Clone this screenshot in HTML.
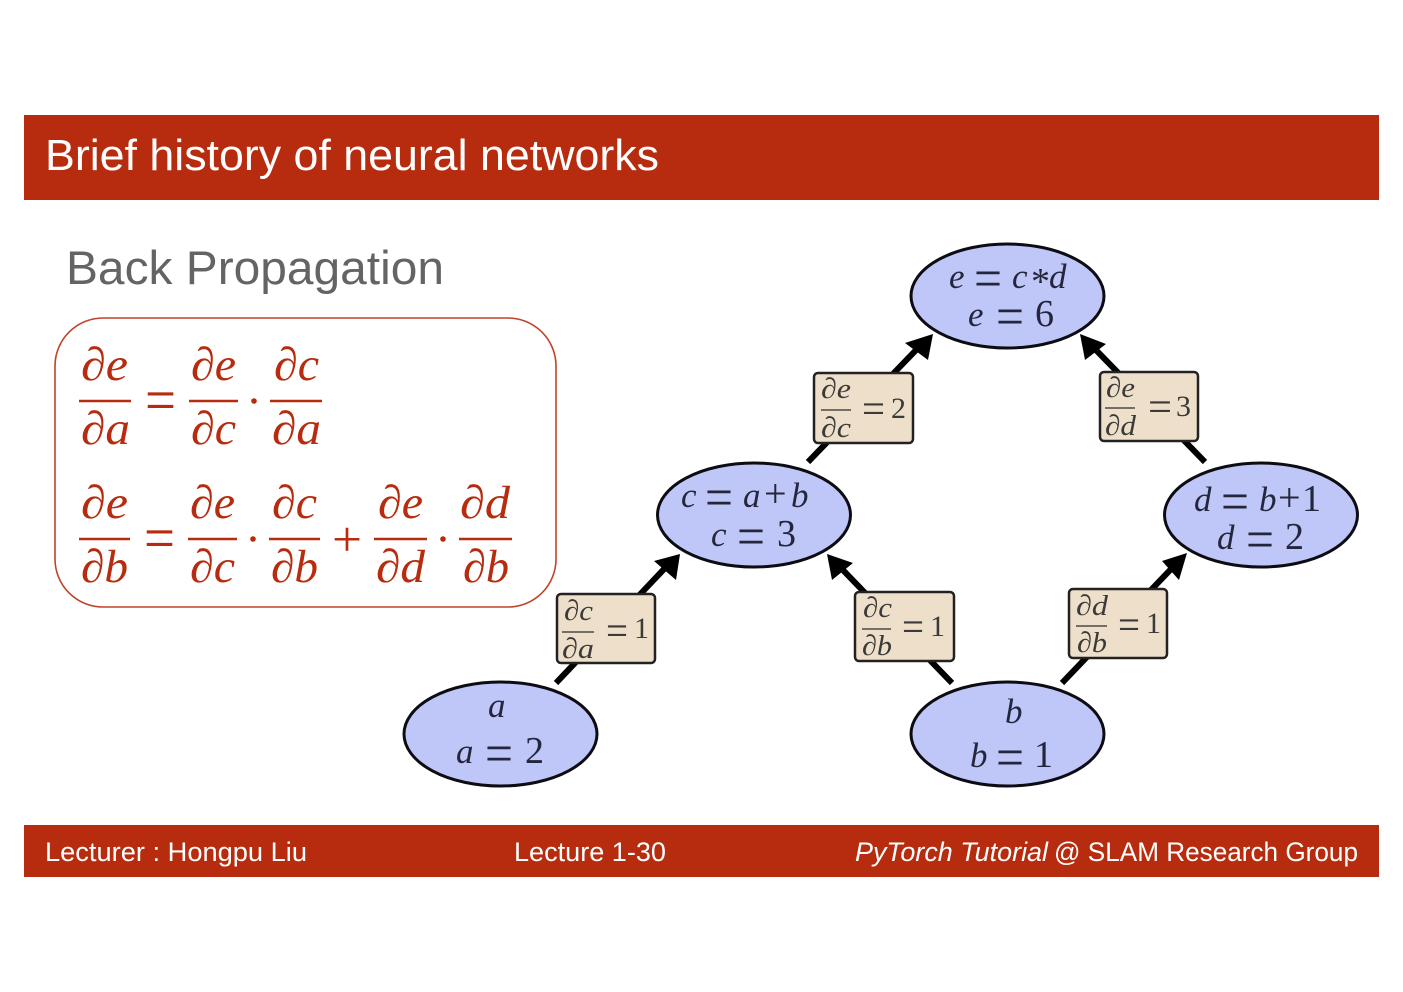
<!DOCTYPE html>
<html lang="en"><head><meta charset="utf-8"><title>Brief history of neural networks</title>
<style>
html,body{margin:0;padding:0;background:#fff}
svg{display:block}
.h{font-family:"Liberation Sans",sans-serif}
.m{font-family:"Liberation Serif",serif;font-style:italic;fill:#b72c0e;font-size:47px}
.mo{font-family:"Liberation Serif",serif;fill:#b72c0e;font-size:62px}
.n{font-family:"Liberation Serif",serif;font-style:italic;fill:#23263c;font-size:35px}
.nd{font-family:"Liberation Serif",serif;fill:#23263c;font-size:38px}
.ne{font-family:"Liberation Serif",serif;fill:#23263c;font-size:56px}
.b{font-family:"Liberation Serif",serif;font-style:italic;fill:#3a3a38;font-size:29px}
.bd{font-family:"Liberation Serif",serif;fill:#3a3a38;font-size:30px}
.be{font-family:"Liberation Serif",serif;fill:#3a3a38;font-size:42px}
</style></head><body>
<svg width="1403" height="992" viewBox="0 0 1403 992" xmlns="http://www.w3.org/2000/svg">
<rect width="1403" height="992" fill="#fff"/>
<rect x="24" y="115" width="1355" height="85" fill="#b72c0e"/>
<rect x="24" y="825" width="1355" height="52" fill="#b72c0e"/>
<text class="h" x="45" y="170" font-size="44" fill="#fff" textLength="614" lengthAdjust="spacingAndGlyphs">Brief history of neural networks</text>
<text class="h" x="66" y="284" font-size="47" fill="#646464" textLength="378" lengthAdjust="spacingAndGlyphs">Back Propagation</text>
<g class="h" font-size="27" fill="#fff">
<text x="45" y="861" textLength="262" lengthAdjust="spacingAndGlyphs">Lecturer : Hongpu Liu</text>
<text x="514" y="861" textLength="152" lengthAdjust="spacingAndGlyphs">Lecture 1-30</text>
<text x="855" y="861" font-style="italic" textLength="193" lengthAdjust="spacingAndGlyphs">PyTorch Tutorial</text>
<text x="1054" y="861" textLength="304" lengthAdjust="spacingAndGlyphs">@ SLAM Research Group</text>
</g>

<rect x="55" y="318" width="501" height="289" rx="48" ry="48" fill="#fff" stroke="#c0432a" stroke-width="1.6"/>
<g stroke="#b72c0e" stroke-width="2.6">
<path d="M79 401H131M189 401H238M270 401H322M79 539H130M188 539H237M269 539H320M374 539H427M459 539H512"/>
</g>
<g class="m">
<text x="81" y="380" textLength="47" lengthAdjust="spacingAndGlyphs">∂e</text>
<text x="81" y="444" textLength="49" lengthAdjust="spacingAndGlyphs">∂a</text>
<text x="191" y="380" textLength="45" lengthAdjust="spacingAndGlyphs">∂e</text>
<text x="191" y="444" textLength="45" lengthAdjust="spacingAndGlyphs">∂c</text>
<text x="274" y="380" textLength="45" lengthAdjust="spacingAndGlyphs">∂c</text>
<text x="272" y="444" textLength="49" lengthAdjust="spacingAndGlyphs">∂a</text>
<text x="81" y="518" textLength="47" lengthAdjust="spacingAndGlyphs">∂e</text>
<text x="81" y="582" textLength="47" lengthAdjust="spacingAndGlyphs">∂b</text>
<text x="190" y="518" textLength="45" lengthAdjust="spacingAndGlyphs">∂e</text>
<text x="190" y="582" textLength="45" lengthAdjust="spacingAndGlyphs">∂c</text>
<text x="272" y="518" textLength="45" lengthAdjust="spacingAndGlyphs">∂c</text>
<text x="271" y="582" textLength="47" lengthAdjust="spacingAndGlyphs">∂b</text>
<text x="378" y="518" textLength="45" lengthAdjust="spacingAndGlyphs">∂e</text>
<text x="376" y="582" textLength="49" lengthAdjust="spacingAndGlyphs">∂d</text>
<text x="460" y="518" textLength="50" lengthAdjust="spacingAndGlyphs">∂d</text>
<text x="463" y="582" textLength="46" lengthAdjust="spacingAndGlyphs">∂b</text>
</g>
<g class="mo">
<text x="145" y="421" textLength="31" lengthAdjust="spacingAndGlyphs">=</text>
<text x="144" y="559" textLength="31" lengthAdjust="spacingAndGlyphs">=</text>
</g>
<text class="mo" style="font-size:50px" x="332" y="556" textLength="30" lengthAdjust="spacingAndGlyphs">+</text>
<g fill="#b72c0e">
<circle cx="254" cy="401" r="2.8"/><circle cx="253" cy="539" r="2.8"/><circle cx="443" cy="539" r="2.8"/>
</g>

<!-- connectors -->
<g stroke="#000" stroke-width="6" fill="none">
<path d="M808 462L918 348M1205 462L1094 348M556 683L666 567M952 683L840 567M1062 683L1173 567"/>
</g>
<g fill="#000">
<path d="M933 334L905 343L928 360Z"/>
<path d="M1080 334L1085 360L1106 344Z"/>
<path d="M680 554L654 561L676 580Z"/>
<path d="M827 554L832 580L853 563Z"/>
<path d="M1187 553L1162 561L1179 580Z"/>
</g>

<!-- nodes -->
<g fill="#bfc7f8" stroke="#0c0c12" stroke-width="3">
<ellipse cx="1007.500" cy="296" rx="96.500" ry="52"/>
<ellipse cx="754" cy="515" rx="96.500" ry="52"/>
<ellipse cx="1261" cy="515" rx="96.500" ry="52"/>
<ellipse cx="500.500" cy="734" rx="96.500" ry="52"/>
<ellipse cx="1007.500" cy="734" rx="96.500" ry="52"/>
</g>
<g class="n">
<text x="949" y="288">e</text><text x="1012" y="288">c</text><text x="1049" y="288">d</text>
<text x="968" y="326">e</text>
<text x="681" y="507">c</text><text x="743" y="507">a</text><text x="791" y="507">b</text>
<text x="711" y="546">c</text>
<text x="1194" y="511">d</text><text x="1259" y="511">b</text>
<text x="1217" y="549">d</text>
<text x="488" y="717">a</text>
<text x="456" y="763">a</text>
<text x="1005" y="723">b</text>
<text x="970" y="767">b</text>
</g>
<g class="nd">
<text x="1031" y="294" style="font-size:38px">*</text>
<text x="1035" y="326">6</text>
<text x="764" y="507" style="font-size:40px">+</text>
<text x="777" y="546">3</text>
<text x="1278" y="511" style="font-size:40px">+</text>
<text x="1302" y="511">1</text>
<text x="1285" y="549">2</text>
<text x="525" y="763">2</text>
<text x="1034" y="767">1</text>
</g>
<g class="ne">
<text x="974" y="297" textLength="28" lengthAdjust="spacingAndGlyphs">=</text>
<text x="996" y="335" textLength="28" lengthAdjust="spacingAndGlyphs">=</text>
<text x="705" y="516" textLength="28" lengthAdjust="spacingAndGlyphs">=</text>
<text x="737" y="555" textLength="28" lengthAdjust="spacingAndGlyphs">=</text>
<text x="1221" y="520" textLength="28" lengthAdjust="spacingAndGlyphs">=</text>
<text x="1246" y="558" textLength="28" lengthAdjust="spacingAndGlyphs">=</text>
<text x="485" y="772" textLength="28" lengthAdjust="spacingAndGlyphs">=</text>
<text x="996" y="776" textLength="28" lengthAdjust="spacingAndGlyphs">=</text>
</g>

<!-- edge labels -->
<g fill="#eedfca" stroke="#222" stroke-width="2.500">
<rect x="814" y="373" width="99" height="70" rx="4"/>
<rect x="1100" y="372" width="98" height="69" rx="4"/>
<rect x="557" y="594" width="98" height="69" rx="4"/>
<rect x="855" y="592" width="99" height="69" rx="4"/>
<rect x="1069" y="589" width="98" height="69" rx="4"/>
</g>
<g stroke="#4a4a48" stroke-width="1.400">
<path d="M821 410H851M1105 408H1135M562 632H594M862 629H891M1076 626H1107"/>
</g>
<g class="b">
<text x="821" y="398" textLength="30" lengthAdjust="spacingAndGlyphs">∂e</text>
<text x="821" y="437" textLength="30" lengthAdjust="spacingAndGlyphs">∂c</text>
<text x="1106" y="397" textLength="29" lengthAdjust="spacingAndGlyphs">∂e</text>
<text x="1105" y="435" textLength="31" lengthAdjust="spacingAndGlyphs">∂d</text>
<text x="564" y="620" textLength="29" lengthAdjust="spacingAndGlyphs">∂c</text>
<text x="562" y="658" textLength="32" lengthAdjust="spacingAndGlyphs">∂a</text>
<text x="863" y="617" textLength="29" lengthAdjust="spacingAndGlyphs">∂c</text>
<text x="862" y="655" textLength="30" lengthAdjust="spacingAndGlyphs">∂b</text>
<text x="1076" y="615" textLength="32" lengthAdjust="spacingAndGlyphs">∂d</text>
<text x="1077" y="652" textLength="30" lengthAdjust="spacingAndGlyphs">∂b</text>
</g>
<g class="bd">
<text x="891" y="418">2</text>
<text x="1176" y="416">3</text>
<text x="634" y="638">1</text>
<text x="930" y="636">1</text>
<text x="1146" y="633">1</text>
</g>
<g class="be">
<text x="862" y="423" textLength="23" lengthAdjust="spacingAndGlyphs">=</text>
<text x="1148" y="421" textLength="24" lengthAdjust="spacingAndGlyphs">=</text>
<text x="606" y="645" textLength="22" lengthAdjust="spacingAndGlyphs">=</text>
<text x="902" y="641" textLength="22" lengthAdjust="spacingAndGlyphs">=</text>
<text x="1118" y="639" textLength="22" lengthAdjust="spacingAndGlyphs">=</text>
</g>
</svg>
</body></html>
